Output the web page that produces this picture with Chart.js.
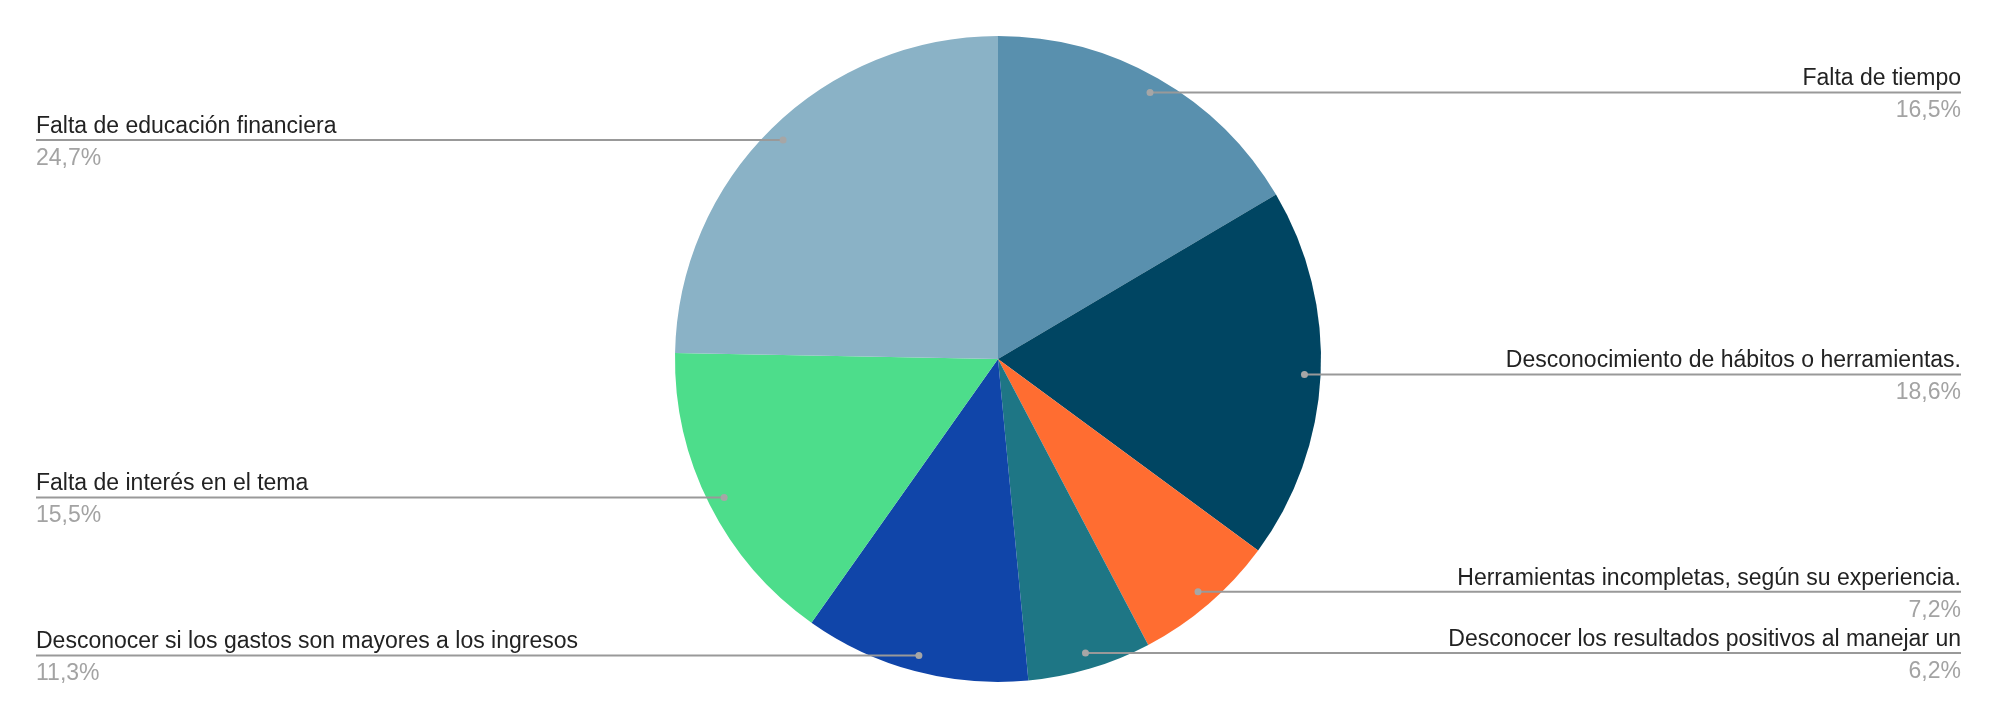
<!DOCTYPE html>
<html>
<head>
<meta charset="utf-8">
<script src="https://cdn.jsdelivr.net/npm/chart.js@4.4.1/dist/chart.umd.min.js"></script>
<style>
  html, body { margin: 0; padding: 0; background: #ffffff; }
  #wrap { width: 1999px; height: 719px; position: relative; }
</style>
</head>
<body>
<div id="wrap"><canvas id="pie"></canvas></div>
<script>
// Slices, clockwise from 12 o'clock
const labels = [
  'Falta de tiempo',
  'Desconocimiento de hábitos o herramientas.',
  'Herramientas incompletas, según su experiencia.',
  'Desconocer los resultados positivos al manejar un',
  'Desconocer si los gastos son mayores a los ingresos',
  'Falta de interés en el tema',
  'Falta de educación financiera',
];
const values = [16.5, 18.6, 7.2, 6.2, 11.3, 15.5, 24.7];
const sliceColors = ['#5990ae', '#004562', '#ff6d31', '#1e7685', '#1045a9', '#4ddd8b', '#8ab2c6'];

const FONT = "23px 'Liberation Sans', Arial, sans-serif";
const LEFT_EDGE = 36;
const RIGHT_EDGE = 1961;

// draws leader lines + two-line labels (name above line, percent below)
const sideLabels = {
  id: 'sideLabels',
  afterDatasetsDraw(chart) {
    const ctx = chart.ctx;
    const arcs = chart.getDatasetMeta(0).data;
    const total = values.reduce((a, b) => a + b, 0);
    ctx.save();
    ctx.font = FONT;
    arcs.forEach((arc, i) => {
      const mid = (arc.startAngle + arc.endAngle) / 2;
      const r = arc.outerRadius * 0.95;
      const dx = arc.x + Math.cos(mid) * r;
      const dy = arc.y + Math.sin(mid) * r;
      const right = dx > arc.x;
      const edge = right ? RIGHT_EDGE : LEFT_EDGE;

      ctx.strokeStyle = '#999999';
      ctx.lineWidth = 2;
      ctx.beginPath();
      ctx.moveTo(dx, dy);
      ctx.lineTo(edge, dy);
      ctx.stroke();

      ctx.fillStyle = '#a6a6a6';
      ctx.beginPath();
      ctx.arc(dx, dy, 3.5, 0, Math.PI * 2);
      ctx.fill();

      ctx.textAlign = right ? 'right' : 'left';
      ctx.textBaseline = 'alphabetic';
      ctx.fillStyle = '#222222';
      ctx.fillText(labels[i], edge, dy - 7);
      const pct = (values[i] / total * 100).toFixed(1).replace('.', ',') + '%';
      ctx.fillStyle = '#a3a3a3';
      ctx.fillText(pct, edge, dy + 25);
    });
    ctx.restore();
  }
};

new Chart(document.getElementById('pie'), {
  type: 'pie',
  data: {
    labels: labels,
    datasets: [{
      data: values,
      backgroundColor: sliceColors,
      borderWidth: 0,
    }],
  },
  options: {
    responsive: true,
    maintainAspectRatio: false,
    animation: false,
    layout: {
      padding: { top: 36, bottom: 37, left: 0, right: 3 },
    },
    plugins: {
      legend: { display: false },
      tooltip: { enabled: false },
    },
  },
  plugins: [sideLabels],
});
</script>
</body>
</html>
